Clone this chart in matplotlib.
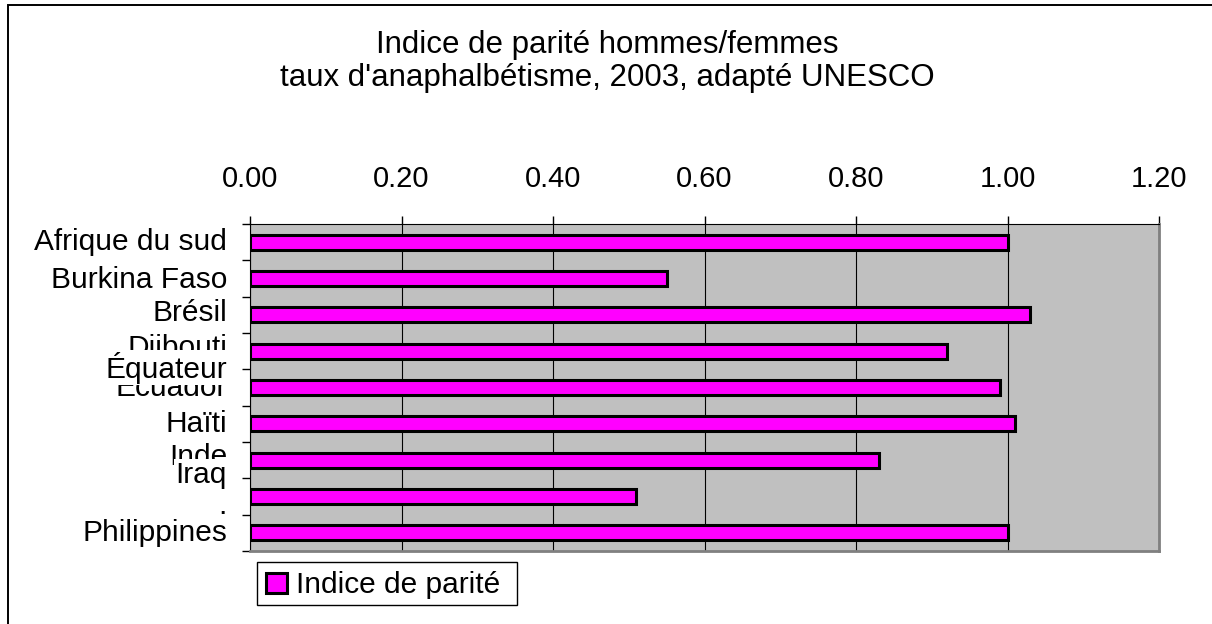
import matplotlib
matplotlib.use("Agg")
import matplotlib.pyplot as plt
from matplotlib.patches import Rectangle

plt.rcParams['font.family'] = ['Liberation Sans', 'DejaVu Sans']

# data
pays = ['Afrique du sud', 'Burkina Faso', 'Brésil', 'Djibouti', 'Ecuador',
        'Haïti', 'Inde', 'Iraq', 'Philippines']
indice = [1.00, 0.55, 1.03, 0.92, 0.99, 1.01, 0.83, 0.51, 1.00]
x_ticks = [0.0, 0.2, 0.4, 0.6, 0.8, 1.0, 1.2]

# label shifts (in category units) to mimic the overlapping labels of the original
label_shift = [0, 0.05, -0.05, -0.1, 0, 0, -0.1, -0.6, 0]
# extra text box pasted over Djibouti / Ecuador
overlay_label = 'Équateur'
overlay_pos = 3.45

fs = 21.5

fig = plt.figure(figsize=(12.12, 6.24), dpi=100)
# outer frame (only top and left edges are visible in the original)
fig.patches.append(Rectangle((8 / 1212, -0.05), 1.1, 1 - 5 / 624 + 0.05,
                             transform=fig.transFigure, fill=False,
                             edgecolor='black', lw=1.4))

ax = fig.add_axes([250 / 1212, 1 - 551 / 624, 909 / 1212, 327 / 624])
ax.set_facecolor('#c0c0c0')

pos = list(range(len(pays)))
ax.barh(pos, indice, height=0.42, color='#ff00ff', edgecolor='black',
        linewidth=2.2, zorder=3, label='Indice de parité')

ax.set_xlim(0, 1.2)
ax.set_ylim(len(pays) - 0.5, -0.5)
ax.xaxis.tick_top()
ax.set_xticks(x_ticks)
ax.set_xticklabels(['%.2f' % v for v in x_ticks], fontsize=21)
ax.tick_params(axis='x', direction='out', length=6, width=1, pad=16)
ax.grid(axis='x', color='black', lw=0.8, zorder=1)

ax.set_yticks([p - 0.5 for p in pos] + [len(pays) - 0.5])
ax.set_yticklabels([])
ax.tick_params(axis='y', direction='out', length=6, width=1)

ax.spines['top'].set_color('black')
ax.spines['left'].set_color('black')
ax.spines['right'].set_color('#808080')
ax.spines['bottom'].set_color('#808080')
ax.spines['right'].set_linewidth(2)
ax.spines['bottom'].set_linewidth(2)

trans = ax.get_yaxis_transform()
lx = -23 / 909
box = dict(boxstyle='square,pad=0.05', facecolor='white', edgecolor='none')
for i, name in enumerate(pays):
    if name == 'Iraq':
        continue
    ax.text(lx, i + label_shift[i], name, transform=trans, ha='right',
            va='center', fontsize=fs, bbox=box, clip_on=False, zorder=5)
# stray dot of a hidden label, visible between Iraq and Philippines
ax.text(lx, 7.47, '.', transform=trans, ha='right', va='baseline',
        fontsize=fs, clip_on=False, zorder=5)
ax.text(lx, overlay_pos, overlay_label, transform=trans, ha='right',
        va='center', fontsize=fs, bbox=box, clip_on=False, zorder=6)
i = pays.index('Iraq')
ax.text(lx, i + label_shift[i], 'Iraq', transform=trans, ha='right',
        va='center', fontsize=fs, bbox=box, clip_on=False, zorder=6)

fig.text(607 / 1212, 1 - 45 / 624, 'Indice de parité hommes/femmes',
         ha='center', va='center', fontsize=22.5)
fig.text(607 / 1212, 1 - 78 / 624, "taux d'anaphalbétisme, 2003, adapté UNESCO",
         ha='center', va='center', fontsize=22.5)

leg = fig.legend(loc='upper left', bbox_to_anchor=(259 / 1212, 1 - 564 / 624),
                 fontsize=fs, frameon=False, handlelength=0.7,
                 handleheight=0.7, handletextpad=0.3, borderpad=0.25,
                 borderaxespad=0)
fig.patches.append(Rectangle((257 / 1212, 1 - 605 / 624), 260 / 1212, 43 / 624,
                             transform=fig.transFigure, facecolor='white',
                             edgecolor='black', lw=1, zorder=0))

fig.savefig('out.png', dpi=100)
